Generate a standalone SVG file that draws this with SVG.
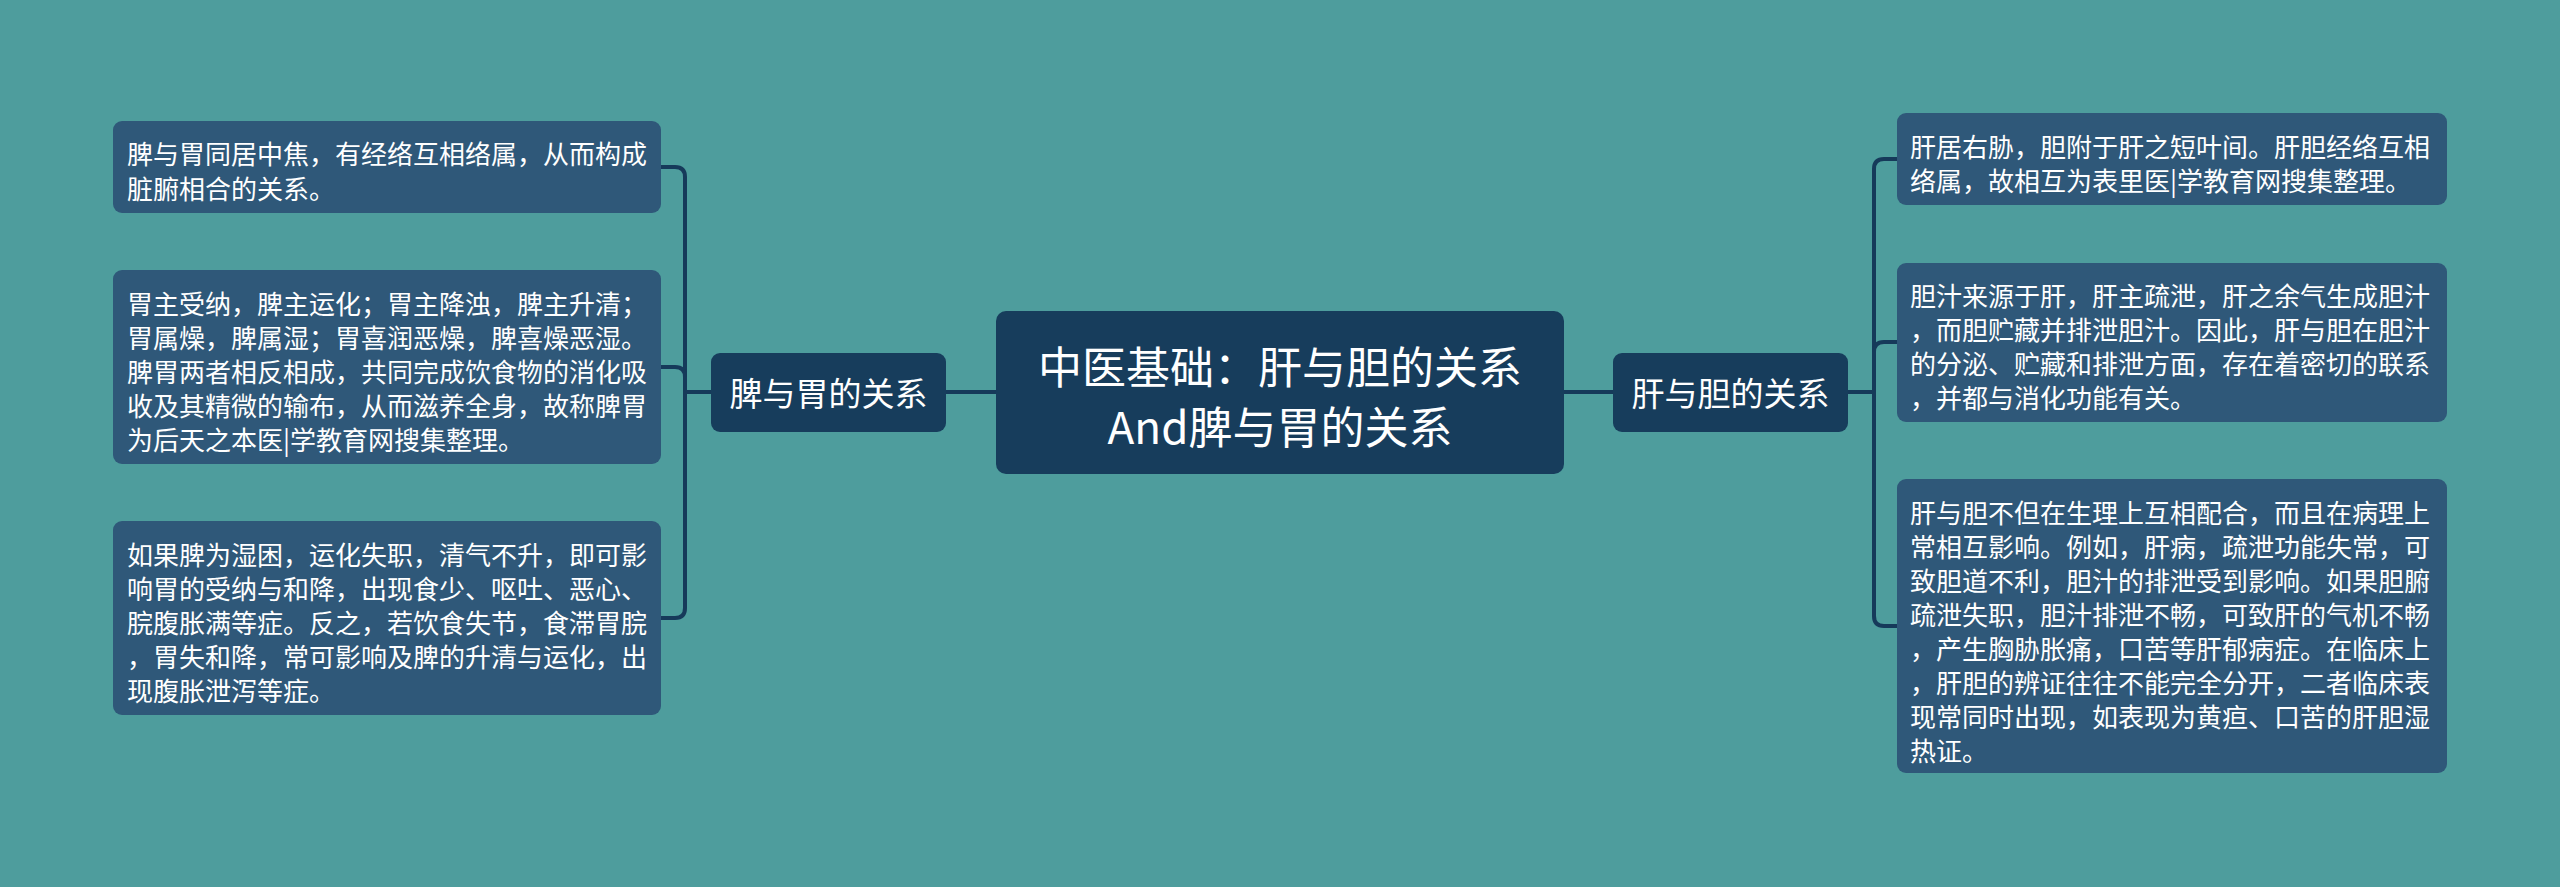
<svg xmlns="http://www.w3.org/2000/svg" width="2560" height="887" viewBox="0 0 2560 887">
<style>
.leaf{fill:#2f5879;}
.mid{fill:#173d5c;}
.lt{font-family:"Noto Sans CJK SC","Noto Sans",sans-serif;font-size:26px;fill:#ffffff;dominant-baseline:central;}
.mt{font-family:"Noto Sans CJK SC","Noto Sans",sans-serif;font-size:33px;fill:#ffffff;dominant-baseline:central;text-anchor:middle;}
.ct{font-family:"Noto Sans CJK SC","Noto Sans",sans-serif;font-size:44px;fill:#ffffff;dominant-baseline:central;text-anchor:middle;}
.con{fill:none;stroke:#163a5a;stroke-width:4;}
</style>
<rect width="2560" height="887" fill="#4e9d9d"/>
<g id="connectors">
<path class="con" d="M946,392 H996"/>
<path class="con" d="M711,392 H685"/>
<path class="con" d="M661,167 H675 Q685,167 685,177 V608 Q685,618 675,618 H661"/>
<path class="con" d="M661,367 H675 Q685,367 685,377"/>
<path class="con" d="M1564,392 H1613"/>
<path class="con" d="M1848,392 H1874"/>
<path class="con" d="M1897,159 H1884 Q1874,159 1874,169 V616 Q1874,626 1884,626 H1897"/>
<path class="con" d="M1897,342 H1884 Q1874,342 1874,352"/>
</g>
<g id="center">
<rect class="mid" x="996" y="311" width="568" height="163" rx="10"/>
<text class="ct" x="1280" y="365">中医基础：肝与胆的关系</text>
<text class="ct" x="1280" y="425">And脾与胃的关系</text>
</g>
<g id="left-mid">
<rect class="mid" x="711" y="353" width="235" height="79" rx="9"/>
<text class="mt" x="828.5" y="392">脾与胃的关系</text>
</g>
<g id="right-mid">
<rect class="mid" x="1613" y="353" width="235" height="79" rx="9"/>
<text class="mt" x="1730.5" y="392">肝与胆的关系</text>
</g>
<g id="left-leaf-1">
<rect class="leaf" x="113" y="121" width="548" height="92" rx="9"/>
<text class="lt" x="127" y="152">脾与胃同居中焦，有经络互相络属，从而构成</text>
<text class="lt" x="127" y="187">脏腑相合的关系。</text>
</g>
<g id="left-leaf-2">
<rect class="leaf" x="113" y="270" width="548" height="194" rx="9"/>
<text class="lt" x="127" y="302">胃主受纳，脾主运化；胃主降浊，脾主升清；</text>
<text class="lt" x="127" y="336">胃属燥，脾属湿；胃喜润恶燥，脾喜燥恶湿。</text>
<text class="lt" x="127" y="370">脾胃两者相反相成，共同完成饮食物的消化吸</text>
<text class="lt" x="127" y="404">收及其精微的输布，从而滋养全身，故称脾胃</text>
<text class="lt" x="127" y="438">为后天之本医|学教育网搜集整理。</text>
</g>
<g id="left-leaf-3">
<rect class="leaf" x="113" y="521" width="548" height="194" rx="9"/>
<text class="lt" x="127" y="553">如果脾为湿困，运化失职，清气不升，即可影</text>
<text class="lt" x="127" y="587">响胃的受纳与和降，出现食少、呕吐、恶心、</text>
<text class="lt" x="127" y="621">脘腹胀满等症。反之，若饮食失节，食滞胃脘</text>
<text class="lt" x="127" y="655">，胃失和降，常可影响及脾的升清与运化，出</text>
<text class="lt" x="127" y="689">现腹胀泄泻等症。</text>
</g>
<g id="right-leaf-1">
<rect class="leaf" x="1897" y="113" width="550" height="92" rx="9"/>
<text class="lt" x="1910" y="145">肝居右胁，胆附于肝之短叶间。肝胆经络互相</text>
<text class="lt" x="1910" y="179">络属，故相互为表里医|学教育网搜集整理。</text>
</g>
<g id="right-leaf-2">
<rect class="leaf" x="1897" y="263" width="550" height="159" rx="9"/>
<text class="lt" x="1910" y="294">胆汁来源于肝，肝主疏泄，肝之余气生成胆汁</text>
<text class="lt" x="1910" y="328">，而胆贮藏并排泄胆汁。因此，肝与胆在胆汁</text>
<text class="lt" x="1910" y="362">的分泌、贮藏和排泄方面，存在着密切的联系</text>
<text class="lt" x="1910" y="396">，并都与消化功能有关。</text>
</g>
<g id="right-leaf-3">
<rect class="leaf" x="1897" y="479" width="550" height="294" rx="9"/>
<text class="lt" x="1910" y="511">肝与胆不但在生理上互相配合，而且在病理上</text>
<text class="lt" x="1910" y="545">常相互影响。例如，肝病，疏泄功能失常，可</text>
<text class="lt" x="1910" y="579">致胆道不利，胆汁的排泄受到影响。如果胆腑</text>
<text class="lt" x="1910" y="613">疏泄失职，胆汁排泄不畅，可致肝的气机不畅</text>
<text class="lt" x="1910" y="647">，产生胸胁胀痛，口苦等肝郁病症。在临床上</text>
<text class="lt" x="1910" y="681">，肝胆的辨证往往不能完全分开，二者临床表</text>
<text class="lt" x="1910" y="715">现常同时出现，如表现为黄疸、口苦的肝胆湿</text>
<text class="lt" x="1910" y="749">热证。</text>
</g>
</svg>
